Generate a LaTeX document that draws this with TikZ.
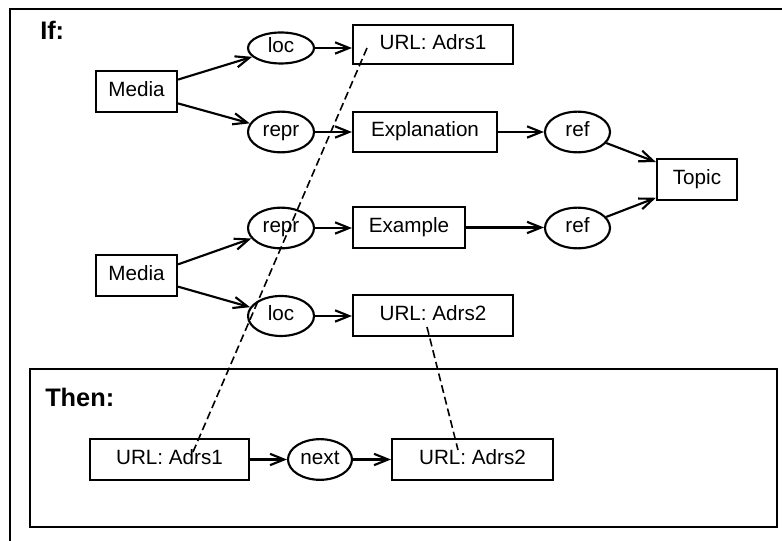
\documentclass[tikz,border=0pt]{standalone}
\usepackage{fontspec}
\setmainfont{Liberation Sans}
\usetikzlibrary{shapes.geometric,arrows.meta}
\begin{document}
\begin{tikzpicture}[x=0.75pt,y=-0.75pt,
  every node/.style={font=\fontsize{15.5}{18}\selectfont},
  box/.style={draw,line width=1.6pt,rectangle,inner sep=0pt,minimum height=30.5pt,text height=9.5pt,text depth=2.5pt},
  oval/.style={draw,line width=1.6pt,ellipse,inner sep=0pt,minimum width=49.5pt,minimum height=30.5pt,text height=9.5pt,text depth=2.5pt},
  arr/.style={line width=1.6pt,-{Straight Barb[length=10.5pt,width=8.5pt,line width=1.6pt]}},
  link/.style={line width=1.2pt,dash pattern=on 6pt off 3pt},
  frame/.style={line width=1.6pt},
  title/.style={font=\fontsize{19}{22}\selectfont\bfseries,anchor=west,inner sep=0pt}]
\useasboundingbox (0,0) rectangle (782,541);
\fill[white] (0,0) rectangle (782,541);
% outer frame
\draw[frame] (10,560) -- (10,9) -- (800,9);
% then frame
\draw[frame] (30,369) rectangle (777,527);
\node[title] (iflbl) at (40,30) {If:};
\node[title] (thenlbl) at (45,397) {Then:};
% nodes
\node[box,minimum width=60.75pt] (media1) at (136.5,91.5) {Media};
\node[oval,minimum height=23.25pt] (loc1) at (281,48) {loc};
\node[box,minimum width=120pt,minimum height=29.25pt] (url1) at (433,44.5) {URL: Adrs1};
\node[oval] (repr1) at (281,132) {repr};
\node[box,minimum width=108pt,minimum height=30pt] (expl) at (425,132) {Explanation};
\node[oval,minimum width=48.75pt] (ref1) at (577.5,132) {ref};
\node[box,minimum width=60pt] (topic) at (697,179.5) {Topic};
\node[oval] (repr2) at (281,228) {repr};
\node[box,minimum width=84pt] (exam) at (409,227.5) {Example};
\node[oval,minimum width=48.75pt] (ref2) at (577.5,228) {ref};
\node[box,minimum width=60.75pt] (media2) at (136.5,275.5) {Media};
\node[oval,minimum height=30pt] (loc2) at (281,316) {loc};
\node[box,minimum width=120pt] (url2) at (433,315.5) {URL: Adrs2};
\node[box,minimum width=119.25pt] (urlA) at (169.5,459.5) {URL: Adrs1};
\node[oval,minimum width=48pt] (next) at (320,459.5) {next};
\node[box,minimum width=120.75pt] (urlB) at (472.5,459.5) {URL: Adrs2};
% arrows
\draw[arr] (media1.16) -- (loc1);
\draw[arr] (media1.-16) -- (repr1);
\draw[arr] (loc1.east) -- (loc1.east -| url1.west);
\draw[arr] (repr1.east) -- (repr1.east -| expl.west);
\draw[arr] (expl.east) -- (ref1.west);
\draw[arr] (ref1) -- (topic.157);
\draw[arr] (media2.15) -- (repr2);
\draw[arr] (media2.-15) -- (loc2);
\draw[arr] (repr2.east) -- (repr2.east -| exam.west);
\draw[arr] (exam.east) -- (exam.east -| ref2.west);
\draw[arr] (ref2) -- (topic.204);
\draw[arr] (loc2.east) -- (loc2.east -| url2.west);
\draw[arr] (urlA.east) -- (next.west);
\draw[arr] (next.east) -- (urlB.west);
% dashed links
\coordinate (d1a) at (367,48);
\coordinate (d1b) at (193,452);
\coordinate (d2a) at (427,327);
\coordinate (d2b) at (458,450);
\draw[link] (d1a) -- (d1b);
\draw[link] (d2a) -- (d2b);
\end{tikzpicture}
\end{document}
